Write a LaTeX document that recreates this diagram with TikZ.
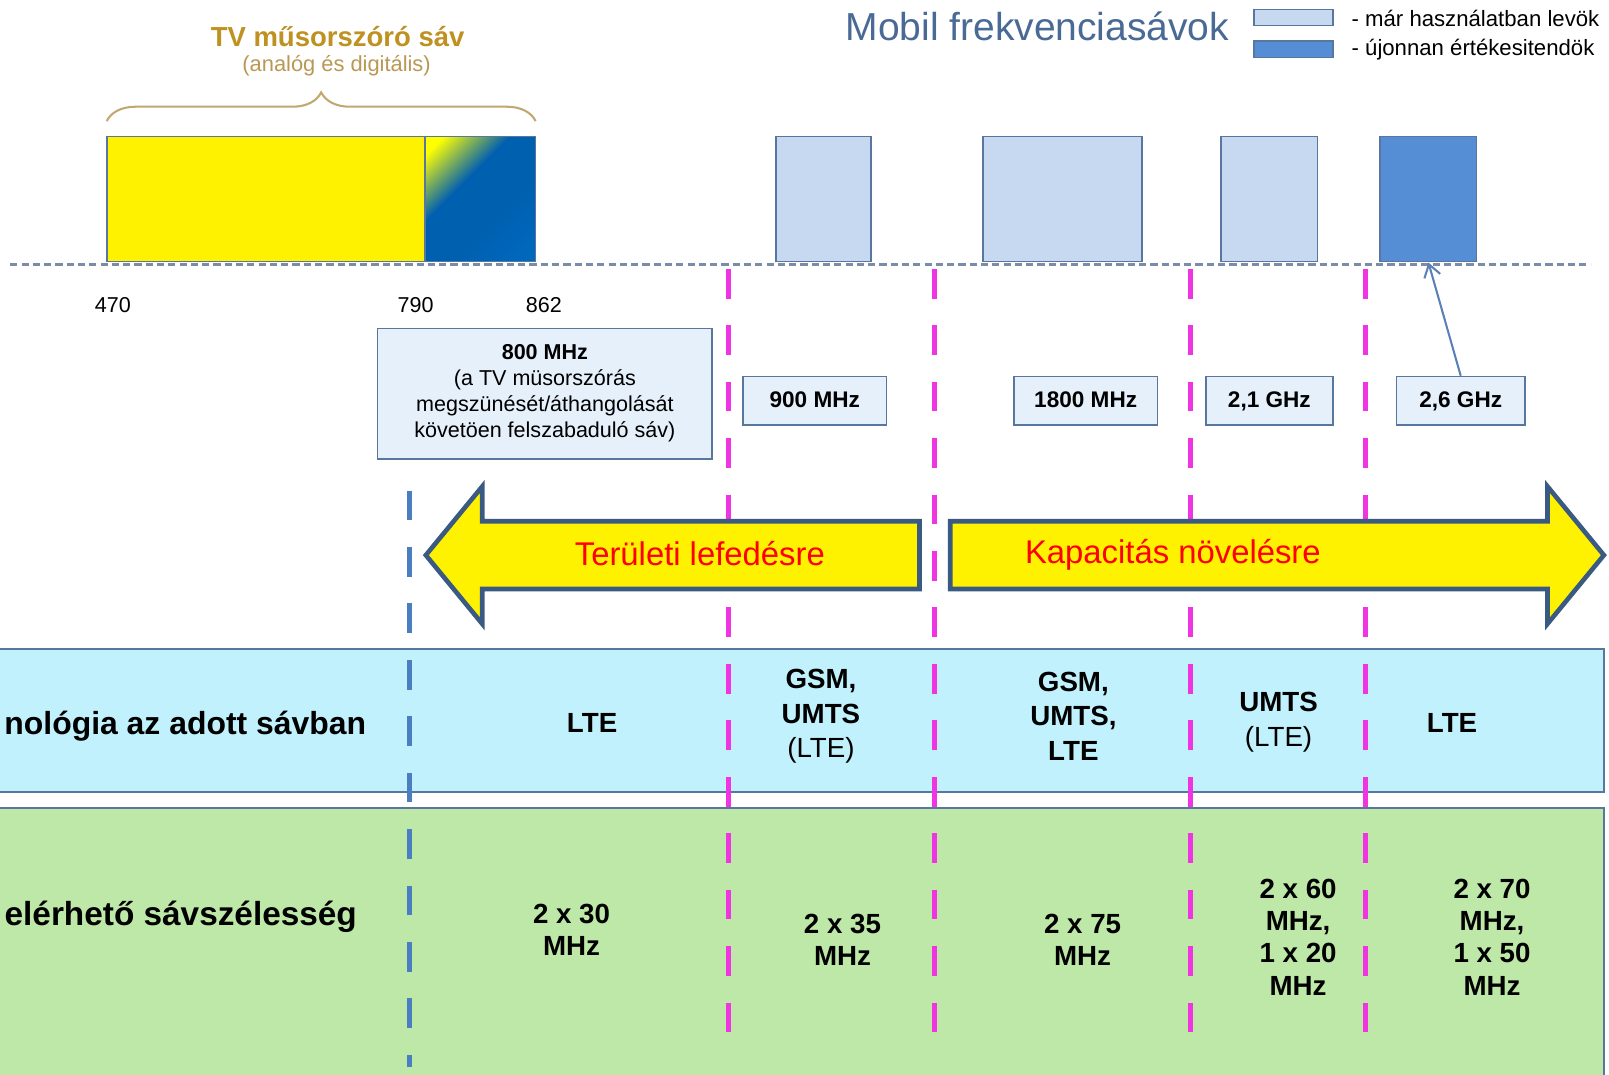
\documentclass[tikz,border=0pt]{standalone}
\usepackage{fontspec}
\setmainfont{Liberation Sans}
\usetikzlibrary{arrows.meta,decorations.pathreplacing}
\definecolor{tvgold}{RGB}{190,145,32}
\definecolor{tvgoldl}{RGB}{186,152,84}
\definecolor{bracec}{RGB}{192,168,112}
\definecolor{lband}{RGB}{198,217,241}
\definecolor{dband}{RGB}{85,142,213}
\definecolor{bandedge}{RGB}{88,118,158}
\definecolor{axisgray}{RGB}{122,140,166}
\definecolor{mag}{RGB}{240,52,225}
\definecolor{bluedash}{RGB}{74,126,192}
\definecolor{arrowedge}{RGB}{59,90,130}
\definecolor{cyanband}{RGB}{192,241,252}
\definecolor{greenband}{RGB}{190,232,168}
\definecolor{labelfill}{RGB}{230,240,251}
\definecolor{titleblue}{RGB}{74,106,150}
\definecolor{tvblue}{RGB}{0,96,176}
\definecolor{tvblue2}{RGB}{0,112,200}
\definecolor{connc}{RGB}{90,128,184}
\pgfdeclareverticalshading{tvgrad}{100bp}{color(0bp)=(tvblue2); color(40bp)=(tvblue); color(60bp)=(tvblue); color(80bp)=(yellow); color(100bp)=(yellow)}
\tikzset{
  fs/.style={font=\fontsize{#1}{#1}\selectfont},
  bandbox/.style={draw=bandedge, line width=1.6pt, inner sep=0pt, minimum height=122pt},
  lblbox/.style={draw=bandedge, line width=1.6pt, fill=labelfill, inner sep=0pt, minimum height=47pt, text height=16pt, text depth=3pt, font=\fontsize{22}{26}\selectfont\bfseries},
  axisline/.style={draw=axisgray, line width=3pt, dash pattern=on 7pt off 4pt},
  magdash/.style={draw=mag, line width=5pt, dash pattern=on 29pt off 26pt},
  bluedashed/.style={draw=bluedash, line width=5pt, dash pattern=on 29pt off 26pt},
  bigarrow/.style={draw=arrowedge, line width=4.5pt, fill=yellow, line join=miter},
  arrowtext/.style={text=red, font=\fontsize{32}{36}\selectfont},
  band/.style={draw=bandedge, line width=2pt},
  coltext/.style={align=center, inner sep=0pt, font=\fontsize{27}{34}\selectfont\bfseries},
  bwtext/.style={align=center, inner sep=0pt, font=\fontsize{27}{31.5}\selectfont\bfseries},
  rowtext/.style={anchor=east, inner sep=0pt, font=\fontsize{#1}{36}\selectfont\bfseries},
  freq/.style={inner sep=0pt, font=\fontsize{21}{24}\selectfont},
  conn/.style={draw=connc, line width=2pt, -{Straight Barb[length=12pt,width=16pt,line width=2pt]}}
}
\begin{document}
\begin{tikzpicture}[x=1pt,y=-1pt]
\useasboundingbox (0,0) rectangle (1568,1047);
\fill[white] (0,0) rectangle (1568,1047);
% bands (rows)
\draw[band, fill=cyanband] (-10,632) rectangle (1563,772);
\draw[band, fill=greenband] (-10,787) rectangle (1563,1060);
% titles
\node[text=tvgold, font=\fontsize{26.8}{30}\selectfont\bfseries, inner sep=0pt] (tvtitle) at (329,36) {TV műsorszóró sáv};
\node[text=tvgoldl, fs=21.3, inner sep=0pt] (tvsub) at (328,64) {(analóg és digitális)};
\coordinate (brL) at (104,118);
\coordinate (brR) at (522,118);
\draw[bracec, line width=2pt, decorate, decoration={brace, amplitude=28pt, aspect=0.5}] (brL) -- (brR);
\node[text=titleblue, fs=38, inner sep=0pt] (mobtitle) at (1011,26) {Mobil frekvenciasávok};
% legend
\node[draw=bandedge, line width=1.4pt, fill=lband, minimum width=77pt, minimum height=16pt, inner sep=0pt] (leg1) at (1260.5,17) {};
\node[draw=bandedge, line width=1.4pt, fill=dband, minimum width=77pt, minimum height=16pt, inner sep=0pt] (leg2) at (1260.5,48) {};
\node[anchor=west, fs=21.6, inner sep=0pt] (leg1t) at (1317,18) {- már használatban levök};
\node[anchor=west, fs=21.6, inner sep=0pt] (leg2t) at (1317,48) {- újonnan értékesitendök};
% frequency band boxes
\node[bandbox, fill=yellow, minimum width=310pt] (tvy) at (259,194) {};
\node[bandbox, shading=tvgrad, shading angle=45, minimum width=108pt] (tvg) at (468,194) {};
\node[bandbox, fill=lband, minimum width=93pt] (b900) at (802.5,194) {};
\node[bandbox, fill=lband, minimum width=155pt] (b1800) at (1035.5,194) {};
\node[bandbox, fill=lband, minimum width=94pt] (b21) at (1237,194) {};
\node[bandbox, fill=dband, minimum width=94pt] (b26) at (1392,194) {};
% axis
\coordinate (axL) at (10,258);
\coordinate (axR) at (1550,258);
\draw[axisline] (axL) -- (axR);
\node[freq] (f470) at (110,297) {470};
\node[freq] (f790) at (405,297) {790};
\node[freq] (f862) at (530,297) {862};
% dashed separators
\foreach \i/\x in {1/710,2/911,3/1160,4/1331}{
  \coordinate (mt\i) at (\x,262);
  \coordinate (mb\i) at (\x,1032);
  \draw[magdash] (mt\i) -- (mb\i);
}
\coordinate (bt) at (399,478);
\coordinate (bb) at (399,1040);
\draw[bluedashed] (bt) -- (bb);
% label boxes
\node[draw=bandedge, line width=1.6pt, fill=labelfill, minimum width=326pt, minimum height=127pt, inner sep=0pt, align=center, font=\fontsize{21}{25.3}\selectfont] (l800) at (531,383.5)
  {\textbf{800 MHz}\\(a TV müsorszórás\\megszünését/áthangolását\\követöen felszabaduló sáv)};
\node[lblbox, minimum width=140pt] (l900) at (794,390.5) {900 MHz};
\node[lblbox, minimum width=140pt] (l1800) at (1058,390.5) {1800 MHz};
\node[lblbox, minimum width=124pt] (l21) at (1237,390.5) {2,1 GHz};
\node[lblbox, minimum width=125pt] (l26) at (1423.5,390.5) {2,6 GHz};
\draw[conn] (l26.north) -- (b26.south);
% big arrows
\draw[bigarrow] (896,508) -- (470,508) -- (470,474) -- (415,541) -- (470,608) -- (470,574) -- (896,574) -- cycle;
\node[arrowtext] (terulet) at (682,539) {Területi lefedésre};
\draw[bigarrow] (926,508) -- (1508,508) -- (1508,474) -- (1563,541) -- (1508,608) -- (1508,574) -- (926,574) -- cycle;
\node[arrowtext] (kapac) at (1143,541) {Kapacitás növelésre};
% row labels
\node[rowtext=31.1] (row1) at (357,708) {nológia az adott sávban};
\node[rowtext=32.5] (row2) at (348,893) {elérhető sávszélesség};
% technology row
\node[coltext] (t1) at (577,705) {LTE};
\node[coltext] (t2) at (800,698) {GSM,\\UMTS\\\mdseries (LTE)};
\node[coltext] (t3) at (1046,698) {GSM,\\UMTS,\\LTE};
\node[coltext] (t4) at (1246,704) {UMTS\\\mdseries (LTE)};
\node[coltext] (t5) at (1415,705) {LTE};
% bandwidth row
\node[bwtext] (w1) at (557,906) {2 x 30\\MHz};
\node[bwtext] (w2) at (821,916) {2 x 35\\MHz};
\node[bwtext] (w3) at (1055,916) {2 x 75\\MHz};
\node[bwtext] (w4) at (1265,913) {2 x 60\\MHz,\\1 x 20\\MHz};
\node[bwtext] (w5) at (1454,913) {2 x 70\\MHz,\\1 x 50\\MHz};
\end{tikzpicture}
\end{document}
